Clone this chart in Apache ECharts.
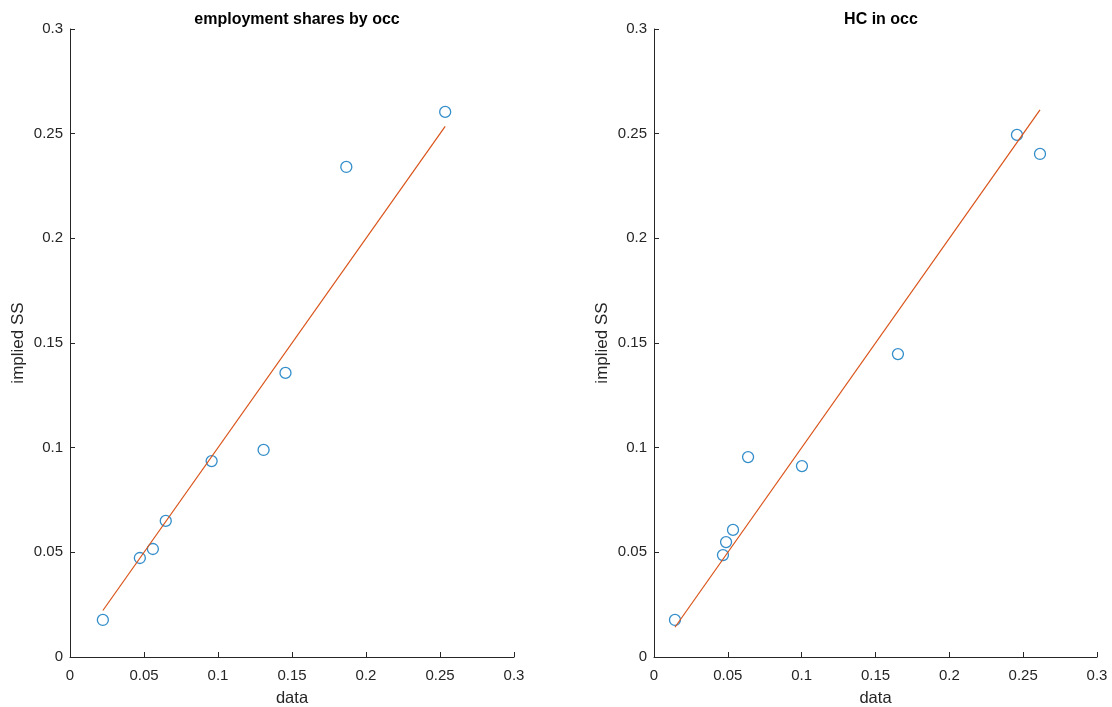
<!DOCTYPE html>
<html><head><meta charset="utf-8">
<script src="https://cdn.jsdelivr.net/npm/echarts@6/dist/echarts.min.js"></script>
<style>html,body{margin:0;padding:0;background:#fff}#c{width:1112px;height:707px}</style>
</head><body><div id="c"></div>
<script>
var titles = ['employment shares by occ', 'HC in occ'];
var leftData = [0.0222, 0.0472, 0.056, 0.0647, 0.0957, 0.1308, 0.1456, 0.1867, 0.2535];
var leftModel = [0.0177, 0.0473, 0.0516, 0.065, 0.0936, 0.0989, 0.1357, 0.2341, 0.2604];
var rightData = [0.0142, 0.0467, 0.0488, 0.0535, 0.0637, 0.1002, 0.1652, 0.2458, 0.2614];
var rightModel = [0.0177, 0.0487, 0.0549, 0.0607, 0.0955, 0.0912, 0.1447, 0.2494, 0.2403];
var xName = 'data', yName = 'implied SS';

function pairs(a, b){ return a.map(function(v,i){ return [v, b[i]]; }); }
function fitLine(a){ var mn = Math.min.apply(null,a), mx = Math.max.apply(null,a); return [[mn,mn],[mx,mx]]; }

var font = 'Liberation Sans, Arial, Helvetica, sans-serif';
var axisCol = '#262626';
function fmt(v){ return String(+v.toFixed(2)); }
function xAxis(i){ return {gridIndex:i, type:'value', min:0, max:0.3, interval:0.05,
  name:xName, nameLocation:'middle', nameGap:33, nameTextStyle:{color:axisCol,fontSize:16.5,fontFamily:font},
  axisLine:{lineStyle:{color:axisCol,width:1}}, axisTick:{inside:true,length:5,lineStyle:{color:axisCol}},
  axisLabel:{color:axisCol,fontSize:15,fontFamily:font,margin:11, formatter:fmt},
  splitLine:{show:false}}; }
function yAxis(i){ return {gridIndex:i, type:'value', min:0, max:0.3, interval:0.05,
  name:yName, nameLocation:'middle', nameGap:43, nameRotate:90, nameTextStyle:{color:axisCol,fontSize:17,fontFamily:font},
  axisLine:{show:true,lineStyle:{color:axisCol,width:1}}, axisTick:{show:true,inside:true,length:5,lineStyle:{color:axisCol}},
  axisLabel:{color:axisCol,fontSize:15,fontFamily:font,margin:7, formatter:fmt},
  splitLine:{show:false}}; }

var chart = echarts.init(document.getElementById('c'), null, {renderer:'canvas'});
chart.setOption({
  animation:false,
  backgroundColor:'#fff',
  title:[
    {text:titles[0], left:292, top:7, textAlign:'center', textStyle:{fontSize:16,fontWeight:'bold',color:'#000',fontFamily:font}},
    {text:titles[1], left:876, top:7, textAlign:'center', textStyle:{fontSize:16,fontWeight:'bold',color:'#000',fontFamily:font}}
  ],
  grid:[
    {left:70, right:598, top:29, bottom:50, containLabel:false, outerBoundsMode:'none'},
    {left:654, right:15, top:29, bottom:50, containLabel:false, outerBoundsMode:'none'}
  ],
  xAxis:[xAxis(0), xAxis(1)],
  yAxis:[yAxis(0), yAxis(1)],
  series:[
    {type:'line', xAxisIndex:0, yAxisIndex:0, data:fitLine(leftData), symbol:'none', lineStyle:{color:'#D95319',width:1.2}},
    {type:'scatter', xAxisIndex:0, yAxisIndex:0, data:pairs(leftData,leftModel), symbol:'circle', symbolSize:11,
      itemStyle:{color:'transparent', borderColor:'#0072BD', borderWidth:1.3}},
    {type:'line', xAxisIndex:1, yAxisIndex:1, data:fitLine(rightData), symbol:'none', lineStyle:{color:'#D95319',width:1.2}},
    {type:'scatter', xAxisIndex:1, yAxisIndex:1, data:pairs(rightData,rightModel), symbol:'circle', symbolSize:11,
      itemStyle:{color:'transparent', borderColor:'#0072BD', borderWidth:1.3}}
  ]
});
</script></body></html>
